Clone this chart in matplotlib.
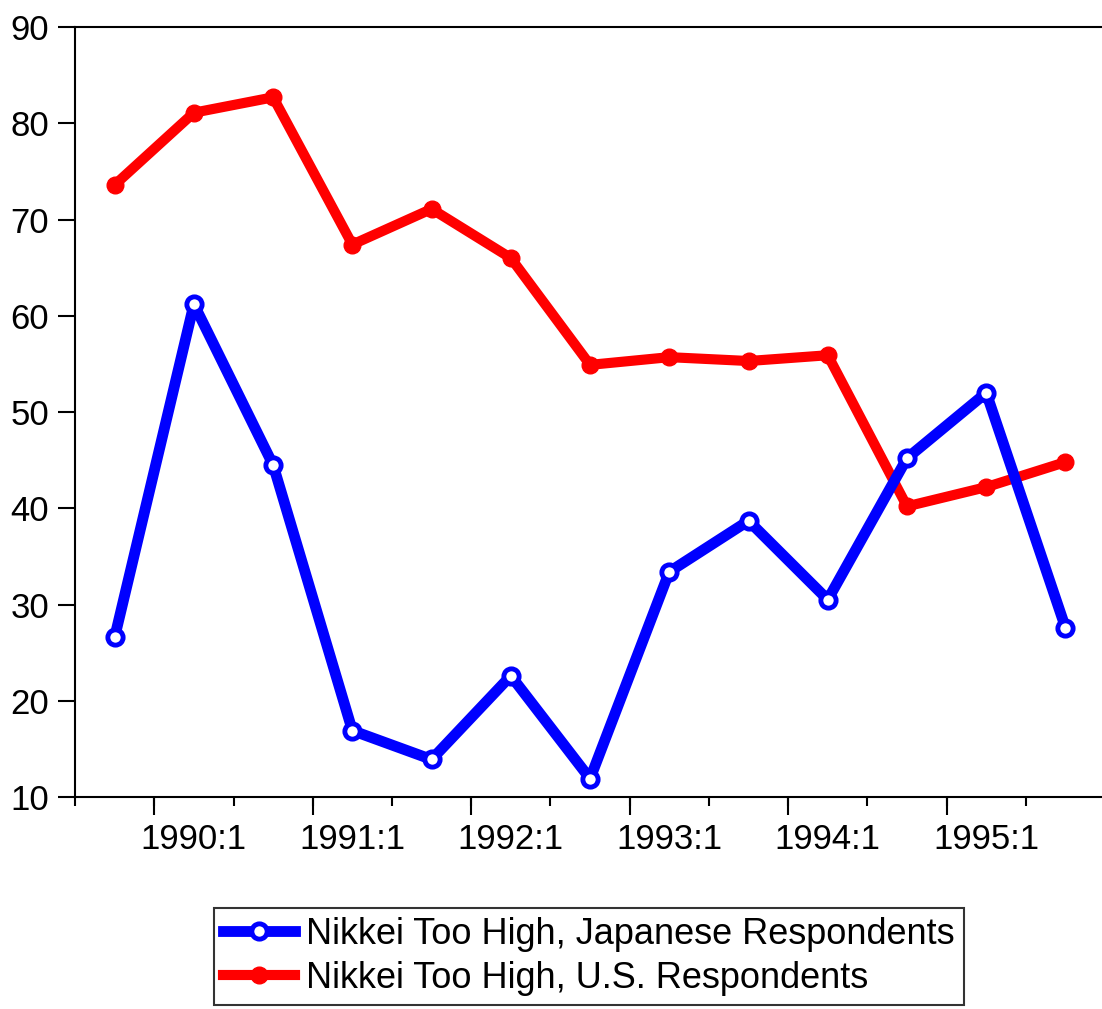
import matplotlib.pyplot as plt
import numpy as np

plt.rcParams["font.family"] = ["Liberation Sans", "DejaVu Sans"]

# semiannual periods 1989:2 .. 1995:2
periods = ["1989:2", "1990:1", "1990:2", "1991:1", "1991:2", "1992:1", "1992:2",
           "1993:1", "1993:2", "1994:1", "1994:2", "1995:1", "1995:2"]
japan = [26.6, 61.2, 44.5, 16.9, 13.9, 22.6, 11.9, 33.4, 38.7, 30.5, 45.2, 52.0, 27.6]
us = [73.6, 81.1, 82.7, 67.4, 71.1, 66.0, 54.9, 55.7, 55.3, 55.9, 40.2, 42.2, 44.8]

BLUE = "#0000FF"
RED = "#FF0000"

fig = plt.figure(figsize=(11.02, 10.09), dpi=100)
ax = fig.add_axes([0.0681, 0.2101, 0.9347, 0.7631])

x = np.arange(len(periods))
ax.plot(x, japan, color=BLUE, lw=7.8, marker="o", ms=11, mfc="white",
        mec=BLUE, mew=3.5, solid_joinstyle="round",
        label="Nikkei Too High, Japanese Respondents", zorder=3)
ax.plot(x, us, color=RED, lw=7.3, marker="o", ms=12, mfc=RED, mec=RED,
        solid_joinstyle="round",
        label="Nikkei Too High, U.S. Respondents", zorder=2)

ax.set_xlim(-0.5, len(periods) - 0.5)
ax.set_ylim(10, 90)
ax.set_yticks(np.arange(10, 91, 10))
ax.tick_params(axis="y", direction="out", length=12, width=1.5, labelsize=25, pad=6.5)

# labels centred on first half of each year
lab_idx = [i for i, p in enumerate(periods) if p.endswith(":1")]
ax.set_xticks(lab_idx)
ax.set_xticklabels([periods[i] for i in lab_idx])
ax.tick_params(axis="x", length=0, labelsize=25, pad=19)
ax.set_xticks(np.arange(len(periods) + 1) - 0.5, minor=True)
ax.tick_params(axis="x", which="minor", direction="out", length=6.5, width=1.5)

# longer ticks at the start of each year
sec = ax.secondary_xaxis("bottom")
sec.set_xticks([i - 0.5 for i in lab_idx])
sec.set_xticklabels([])
sec.tick_params(direction="out", length=13, width=1.5)
sec.spines["bottom"].set_visible(False)

for s in ["left", "bottom", "top"]:
    ax.spines[s].set_linewidth(1.5)
ax.spines["right"].set_visible(False)

leg = fig.legend(loc="center", bbox_to_anchor=(0.5345, 0.052), fontsize=26,
                 frameon=True, fancybox=False, edgecolor="black",
                 handlelength=2.0, handletextpad=0.3, labelspacing=0.25,
                 borderpad=0.25, borderaxespad=0)
leg.get_frame().set_linewidth(1.5)

fig.savefig("out.png", dpi=100)
